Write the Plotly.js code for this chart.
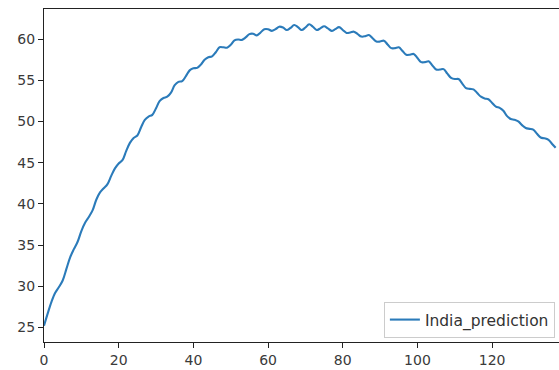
<!DOCTYPE html>
<html>
<head>
<meta charset="utf-8">
<script src="https://cdn.plot.ly/plotly-3.0.1.min.js"></script>
<style>html,body{margin:0;padding:0;background:#fff;}#chart{width:559px;height:370px;}</style>
</head>
<body>
<div id="chart"></div>
<script>
var seriesName = "India_prediction";
var days = [];
for (var i = 0; i < 138; i++) days.push(i);
var indiaPrediction = [
  25.2, 26.7, 28.1, 29.2, 29.9, 30.7, 32.1, 33.5, 34.5, 35.4,
  36.7, 37.7, 38.4, 39.2, 40.5, 41.4, 41.9, 42.4, 43.4, 44.3,
  44.9, 45.3, 46.4, 47.4, 48.0, 48.3, 49.3, 50.2, 50.6, 50.8,
  51.6, 52.5, 52.85, 53.0, 53.5, 54.4, 54.8, 54.9, 55.5, 56.2,
  56.45, 56.5, 56.9, 57.5, 57.8, 57.9, 58.4, 59.0, 59.0, 58.95,
  59.3, 59.85, 59.95, 59.9, 60.2, 60.6, 60.65, 60.45, 60.8, 61.2,
  61.2, 61.0, 61.2, 61.5, 61.4, 61.1, 61.35, 61.7, 61.45, 61.1,
  61.4, 61.8, 61.5, 61.1, 61.3, 61.55, 61.3, 61.0, 61.2, 61.45,
  61.1, 60.75, 60.8, 60.9, 60.6, 60.3, 60.35, 60.5, 60.1, 59.7,
  59.7, 59.8, 59.35, 58.9, 58.9, 59.0, 58.55, 58.1, 58.1, 58.2,
  57.7, 57.2, 57.2, 57.3, 56.8, 56.3, 56.3, 56.35, 55.8, 55.3,
  55.15, 55.15, 54.6, 54.05, 53.95, 53.9, 53.45, 53.0, 52.8, 52.7,
  52.25, 51.8, 51.65, 51.3, 50.65, 50.3, 50.2, 50.0, 49.55, 49.2,
  49.1, 49.0, 48.5, 48.05, 47.95, 47.8, 47.3, 46.8
];

var tickFont = {family: "DejaVu Sans", size: 14, color: "#3a3a3a"};

var trace = {
  x: days,
  y: indiaPrediction,
  type: "scatter",
  mode: "lines",
  name: seriesName,
  line: {color: "#2b7bba", width: 2.1, shape: "spline", smoothing: 1}
};

var layout = {
  width: 559,
  height: 370,
  margin: {l: 44, r: 0, t: 9, b: 28, pad: 0},
  paper_bgcolor: "#ffffff",
  plot_bgcolor: "#ffffff",
  showlegend: true,
  xaxis: {
    range: [0, 137.9],
    tick0: 0, dtick: 20,
    showgrid: false, zeroline: false,
    showline: true, linecolor: "#222222", linewidth: 1.1, mirror: true,
    ticks: "outside", ticklen: 5, tickwidth: 1, tickcolor: "#222222",
    tickfont: tickFont
  },
  yaxis: {
    range: [23.23, 63.65],
    tick0: 25, dtick: 5,
    showgrid: false, zeroline: false,
    showline: true, linecolor: "#222222", linewidth: 1.1, mirror: false,
    ticks: "outside", ticklen: 5, tickwidth: 1, tickcolor: "#222222",
    tickfont: tickFont
  },
  legend: {
    x: 0.992, y: 0.012, xanchor: "right", yanchor: "bottom",
    bgcolor: "rgba(255,255,255,0.9)", bordercolor: "#cccccc", borderwidth: 1,
    font: {family: "DejaVu Sans", size: 15.5, color: "#333333"}
  }
};

Plotly.newPlot("chart", [trace], layout, {displayModeBar: false, staticPlot: true});
</script>
</body>
</html>
